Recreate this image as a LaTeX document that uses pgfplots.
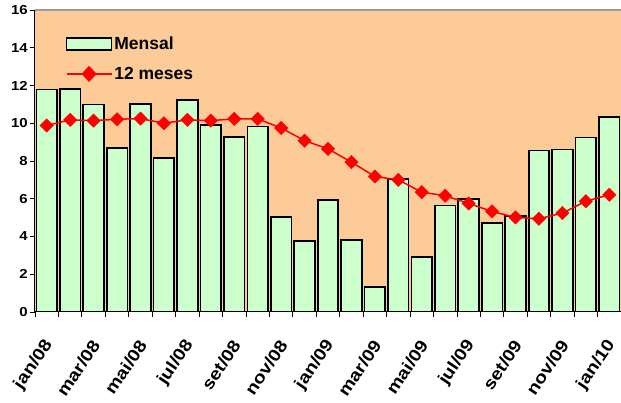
\documentclass[border=0pt]{standalone}
\usepackage{fontspec}
\setmainfont{Liberation Sans}
\newfontfamily\tickfont[FakeStretch=1.15]{Liberation Sans}
\usepackage{pgfplots}
\pgfplotsset{compat=1.18}
\definecolor{peach}{HTML}{FDCB98}
\definecolor{mint}{HTML}{CCFFCC}
\begin{document}
\begin{tikzpicture}
\begin{axis}[
  scale only axis,
  width=586pt, height=302pt,
  xmin=0.5, xmax=25.5,
  ymin=0, ymax=16,
  ytick={0,2,...,16},
  xtick={1,3,...,25},
  xticklabels={jan/08,mar/08,mai/08,jul/08,set/08,nov/08,jan/09,mar/09,mai/09,jul/09,set/09,nov/09,jan/10},
  minor xtick={0.5,1.5,...,25.5},
  major x tick style={draw=none},
  minor tick length=5pt,
  major tick length=5pt,
  tick align=outside,
  axis x line*=bottom,
  axis y line*=left,
  axis line style={black, line width=1pt},
  tick style={black, line width=0.8pt},
  axis background/.style={fill=peach},
  /pgf/number format/assume math mode=true,
  yticklabel style={font=\tickfont\bfseries\fontsize{13}{15}\selectfont, inner sep=2pt},
  xticklabel style={xshift=3pt, yshift=-24pt, rotate=56, anchor=east, inner sep=1pt, font=\tickfont\bfseries\fontsize{17}{19}\selectfont},
  legend style={draw=none, fill=none, at={(0.047,0.925)}, anchor=north west,
    font=\bfseries\fontsize{17.5}{19}\selectfont, row sep=12pt,
    /tikz/every even column/.append style={column sep=3pt}},
  legend cell align=left,
]
\coordinate (sw) at (rel axis cs:0,0);
\coordinate (ne) at (rel axis cs:1,1);
\addplot[ybar, bar width=0.88, fill=mint, draw=black, line width=1.7pt,
  legend image code/.code={\draw[fill=mint,draw=black,line width=1.6pt] (0pt,-6pt) rectangle (45pt,6pt);}]
coordinates {
(1,11.78)(2,11.8)(3,11.0)(4,8.68)(5,11.02)(6,8.15)(7,11.25)(8,9.91)(9,9.26)(10,9.82)
(11,5.04)(12,3.77)(13,5.94)(14,3.83)(15,1.32)(16,7.05)(17,2.91)(18,5.64)(19,6.0)(20,4.71)
(21,5.1)(22,8.55)(23,8.61)(24,9.24)(25,10.33)};
\addlegendentry{Mensal}
\addplot[red, line width=1.5pt, mark=square*, mark size=4.7pt,
  mark options={rotate=45, fill=red, draw=red, line width=0.5pt},
  legend image code/.code={\draw[red,line width=1.5pt] (0pt,0pt) -- (45pt,0pt);
    \fill[red] (22.5pt,0pt) ++(0,7pt) -- ++(6.5pt,-7pt) -- ++(-6.5pt,-7pt) -- ++(-6.5pt,7pt) -- cycle;}]
coordinates {
(1,9.88)(2,10.18)(3,10.14)(4,10.21)(5,10.25)(6,10.0)(7,10.18)(8,10.14)(9,10.23)(10,10.23)
(11,9.75)(12,9.08)(13,8.64)(14,7.94)(15,7.18)(16,7.0)(17,6.35)(18,6.16)(19,5.75)(20,5.33)
(21,5.01)(22,4.94)(23,5.24)(24,5.87)(25,6.21)};
\addlegendentry{12 meses}
\draw[gray!80, line width=1.2pt] (rel axis cs:0,1) -- (rel axis cs:1,1);
\end{axis}
\pgfresetboundingbox
\path ([shift={(-35pt,-91pt)}]sw) rectangle ([shift={(0pt,10pt)}]ne);
\end{tikzpicture}
\end{document}
